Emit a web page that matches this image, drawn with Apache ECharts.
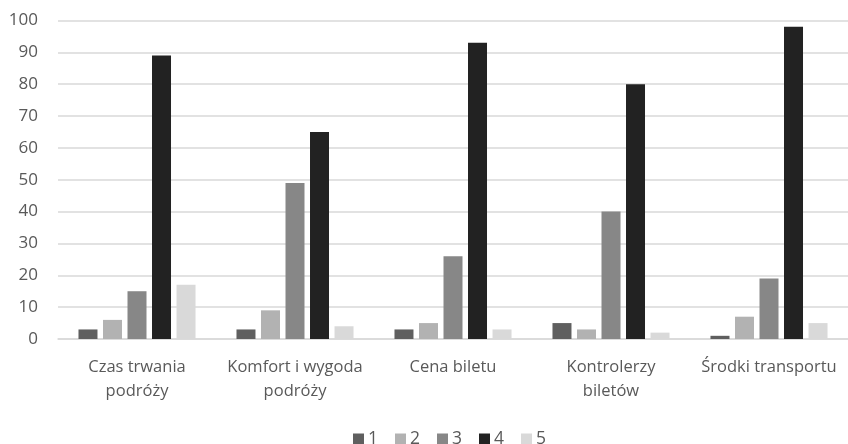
<!DOCTYPE html>
<html>
<head>
<meta charset="utf-8">
<script src="https://cdn.jsdelivr.net/npm/echarts@6/dist/echarts.min.js"></script>
<style>
  html, body { margin: 0; padding: 0; background: #ffffff; }
  #chart { width: 848px; height: 444px; }
</style>
</head>
<body>
<div id="chart"></div>
<script>
// Survey ratings (1–5) per aspect of travel
const categories = [
  'Czas trwania\npodróży',
  'Komfort i wygoda\npodróży',
  'Cena biletu',
  'Kontrolerzy\nbiletów',
  'Środki transportu'
];
const seriesNames = ['1', '2', '3', '4', '5'];
const rating1 = [3, 3, 3, 5, 1];
const rating2 = [6, 9, 5, 3, 7];
const rating3 = [15, 49, 26, 40, 19];
const rating4 = [89, 65, 93, 80, 98];
const rating5 = [17, 4, 3, 2, 5];
const yTicks = { min: 0, max: 100, interval: 10 };

const colors = ['#5f5f5f', '#b2b2b2', '#878787', '#222222', '#d9d9d9'];
const values = [rating1, rating2, rating3, rating4, rating5];
const font = '"Open Sans", sans-serif';
const textColor = '#595959';

const chart = echarts.init(document.getElementById('chart'), null, { renderer: 'canvas' });
chart.setOption({
  animation: false,
  backgroundColor: '#ffffff',
  color: colors,
  grid: { left: 58, right: -4, top: 20.5, bottom: 105, containLabel: false },
  legend: {
    data: seriesNames,
    left: 348,
    top: 425,
    itemWidth: 11,
    itemHeight: 11,
    itemGap: 17,
    icon: 'rect',
    textStyle: { color: textColor, fontFamily: font, fontSize: 17.5, padding: [0, 0, 0, -1] }
  },
  xAxis: {
    type: 'category',
    data: categories,
    axisLine: { lineStyle: { color: '#d9d9d9', width: 1.5 } },
    axisTick: { show: false },
    axisLabel: {
      color: textColor,
      fontFamily: font,
      fontSize: 16.5,
      lineHeight: 24,
      margin: 16,
      interval: 0
    }
  },
  yAxis: {
    type: 'value',
    min: yTicks.min,
    max: yTicks.max,
    interval: yTicks.interval,
    axisLine: { show: false },
    axisTick: { show: false },
    splitLine: { lineStyle: { color: '#d9d9d9', width: 1.5 } },
    axisLabel: { color: textColor, fontFamily: font, fontSize: 17, margin: 20 }
  },
  series: seriesNames.map((name, i) => ({
    name: name,
    type: 'bar',
    data: values[i],
    barWidth: 19,
    barGap: '29%',
    itemStyle: { color: colors[i] }
  }))
});
</script>
</body>
</html>
